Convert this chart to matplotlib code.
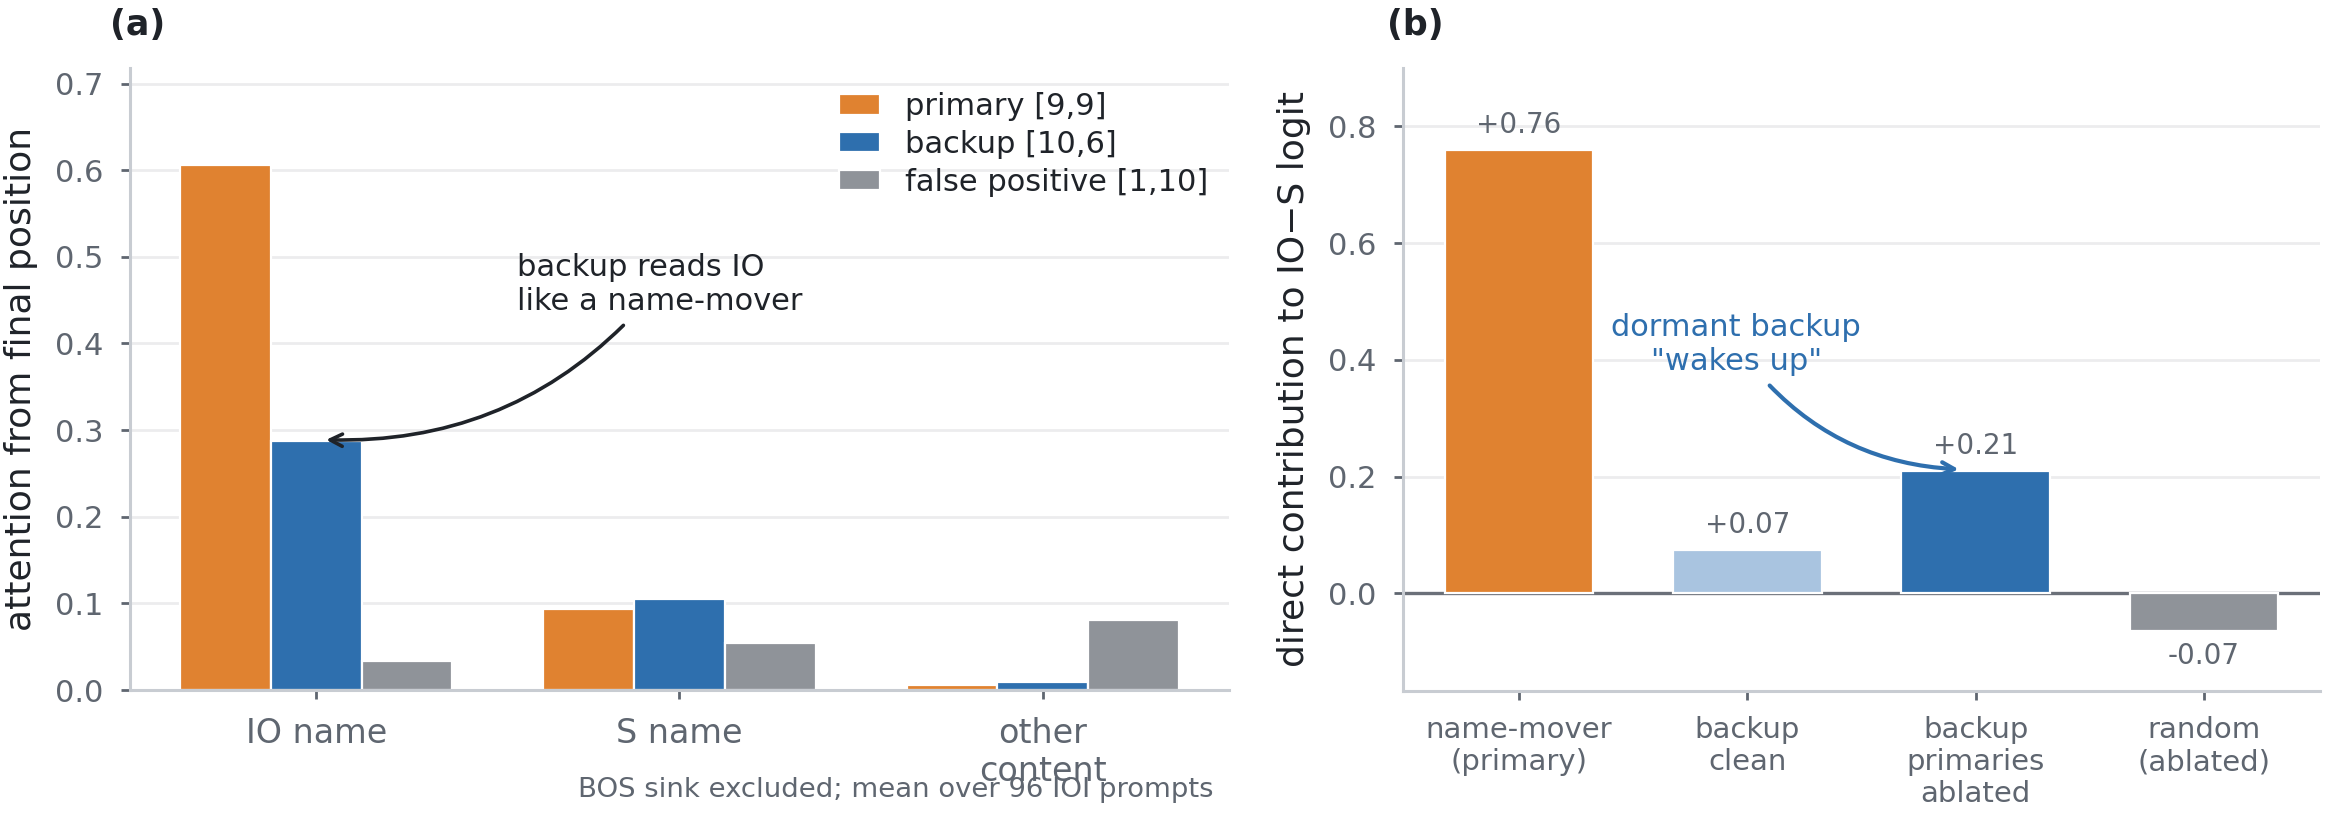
import matplotlib
matplotlib.use("Agg")
import matplotlib.pyplot as plt
import numpy as np

# ---------------- data ----------------
categories_a = ["IO name", "S name", "other\ncontent"]
series_a = ["primary [9,9]", "backup [10,6]", "false positive [1,10]"]
primary_vals = [0.606, 0.093, 0.006]
backup_vals = [0.287, 0.105, 0.009]
falsepos_vals = [0.034, 0.054, 0.081]

categories_b = ["name-mover\n(primary)", "backup\nclean", "backup\nprimaries\nablated", "random\n(ablated)"]
values_b = [0.76, 0.074, 0.21, -0.065]

# ---------------- style ----------------
ORANGE = "#e08230"
BLUE = "#2e6fae"
GRAY = "#8f9399"
LIGHTBLUE = "#a9c4e0"
TXT = "#1f2329"
TICK = "#5f6670"
SPINE = "#c8ccd2"
GRID = "#ececee"

plt.rcParams["font.family"] = ["DejaVu Sans"]

W, H = 2327, 818
fig = plt.figure(figsize=(W / 200, H / 200), dpi=200)
axa = fig.add_axes([130 / W, 1 - 690 / H, (1229 - 130) / W, (690 - 68) / H])
axb = fig.add_axes([1403 / W, 1 - 690.7 / H, (2320 - 1403) / W, (690.7 - 68) / H])

for ax in (axa, axb):
    for s in ("top", "right"):
        ax.spines[s].set_visible(False)
    for s in ("left", "bottom"):
        ax.spines[s].set_color(SPINE)
        ax.spines[s].set_linewidth(1.1)
    ax.set_axisbelow(True)
    ax.yaxis.grid(True, color=GRID, linewidth=1.0)
    ax.tick_params(axis="both", colors=TICK, length=3.2, width=1.0, labelcolor=TICK)
    ax.tick_params(axis="y", pad=6.3)

axa.tick_params(axis="x", pad=6.6)
axb.tick_params(axis="x", pad=5.8)

# ---------------- panel (a) ----------------
x = np.arange(len(categories_a))
w = 0.25
series_vals = [primary_vals, backup_vals, falsepos_vals]
series_cols = [ORANGE, BLUE, GRAY]
for i, (vals, col, lab) in enumerate(zip(series_vals, series_cols, series_a)):
    axa.bar(x + (i - 1) * w, vals, w, color=col, edgecolor="white", linewidth=0.8, label=lab)

axa.set_xticks(x)
axa.set_xticklabels(categories_a, fontsize=12)
axa.set_ylim(0, 0.718)
axa.set_yticks(np.arange(0, 0.71, 0.1))
axa.set_yticklabels([f"{v:.1f}" for v in np.arange(0, 0.71, 0.1)], fontsize=11)
axa.set_ylabel("attention from final position", fontsize=13, color=TXT, labelpad=6)

leg = axa.legend(loc="upper right", frameon=False, fontsize=11, handlelength=1.35,
                 handleheight=0.65, labelspacing=0.28, bbox_to_anchor=(1.006, 1.005))
for t in leg.get_texts():
    t.set_color(TXT)

axa.annotate("backup reads IO\nlike a name-mover", xy=(0.012, 0.289), xytext=(0.554, 0.468),
             ha="left", va="center", fontsize=11, color=TXT,
             arrowprops=dict(arrowstyle="->", color=TXT, lw=1.3,
                             connectionstyle="arc3,rad=-0.25"))

axa.text(0.986, -0.172, "BOS sink excluded; mean over 96 IOI prompts", transform=axa.transAxes,
         ha="right", va="baseline", fontsize=9.9, color=TICK)
axa.text(-0.018, 1.069, "(a)", transform=axa.transAxes, ha="left", va="center",
         fontsize=12.5, fontweight="bold", color=TXT)

# ---------------- panel (b) ----------------
xb = np.arange(len(categories_b))
cols_b = [ORANGE, LIGHTBLUE, BLUE, GRAY]
axb.axhline(0, color="#6b7079", linewidth=1.2, zorder=1)
axb.bar(xb, values_b, 0.65, color=cols_b, edgecolor="white", linewidth=0.8, zorder=2)
for xi, v in zip(xb, values_b):
    if v >= 0:
        axb.annotate(f"{v:+.2f}", xy=(xi, v), xytext=(0, 4), textcoords="offset points",
                     ha="center", va="bottom", fontsize=10, color=TICK)
    else:
        axb.annotate(f"{v:+.2f}", xy=(xi, v), xytext=(0, -4), textcoords="offset points",
                     ha="center", va="top", fontsize=10, color=TICK)

axb.set_xticks(xb)
axb.set_xticklabels(categories_b, fontsize=10.5)
axb.set_ylim(-0.167, 0.9)
yt = np.arange(0, 0.81, 0.2)
axb.set_yticks(yt)
axb.set_yticklabels([f"{v:.1f}" for v in yt], fontsize=11)
axb.set_ylabel("direct contribution to IO\u2212S logit", fontsize=13, color=TXT, labelpad=6)

axb.annotate("dormant backup\n\"wakes up\"", xy=(1.95, 0.212), xytext=(0.952, 0.426),
             ha="center", va="center", fontsize=11, color=BLUE,
             arrowprops=dict(arrowstyle="->", color=BLUE, lw=1.5,
                             connectionstyle="arc3,rad=0.25"))
axb.text(-0.0174, 1.069, "(b)", transform=axb.transAxes, ha="left", va="center",
         fontsize=12.5, fontweight="bold", color=TXT)

fig.savefig("out.png", dpi=200)
